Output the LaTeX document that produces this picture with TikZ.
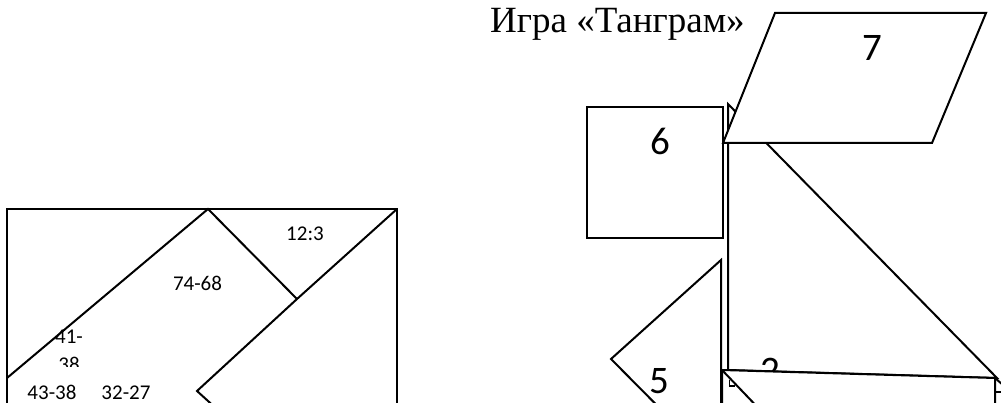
\documentclass[tikz,border=0pt]{standalone}
\usepackage{fontspec}
\newfontfamily\calibri{Carlito}
\newfontfamily\tnr{Liberation Serif}
\begin{document}
\begin{tikzpicture}[x=1pt,y=-1pt,
  piece/.style={draw=black,line width=2pt,line join=miter,fill=white},
  edge/.style={draw=black,line width=2pt},
  small/.style={font=\calibri\fontsize{21}{24}\selectfont,inner sep=0pt},
  big/.style={font=\calibri\fontsize{39}{44}\selectfont,inner sep=0pt},
  title/.style={font=\tnr\fontsize{37}{42}\selectfont,inner sep=0pt}]
\useasboundingbox (0,0) rectangle (1001,403);
\clip (0,0) rectangle (1001,403);
% ---------- left figure ----------
\coordinate (A) at (7,209);
\coordinate (B) at (208,209);
\coordinate (C) at (397,209);
\coordinate (D) at (297,299);
\coordinate (E) at (197,391);
\coordinate (F) at (229,420);
\coordinate (G) at (7,378);
\draw[edge] (7,430) -- (A) -- (C) -- (397,430);
\draw[edge] (G) -- (B) -- (D);
\draw[edge] (C) -- (D) -- (E) -- (F);
\node[small] (t1) at (305,234) {12:3};
\node[small] (t2) at (197.5,283.5) {74-68};
\node[small] (t3) at (69,337) {41-};
\begin{scope}
  \clip (40,350) rectangle (100,366.5);
  \node[small] (t4) at (69,364.5) {38};
\end{scope}
\node[small] (t5) at (52,392.5) {43-38};
\node[small] (t6) at (126,392.5) {32-27};
% ---------- right figure ----------
\node[title,anchor=base west] (title) at (490,33) {Игра «Танграм»};
% big triangle (2)
\coordinate (P1) at (728,104);
\coordinate (P2) at (728,370);
\coordinate (P3) at (997,378);
\draw[piece] (P1) -- (P2) -- (P3) -- cycle;
\node[big] (n2) at (770,370.5) {2};
% lower piece
\coordinate (Q1) at (722,370);
\coordinate (Q2) at (995,378);
\draw[piece] (722,430) -- (Q1) -- (Q2) -- (995,430);
\draw[edge] (Q2) -- (1003,385);
\draw[edge] (995,392) -- (1003,392);
\draw[edge] (Q1) -- (765,415);
\draw[line width=1.4pt] (729.5,380) -- (729.5,386) -- (735,386);
% triangle 5
\coordinate (R1) at (721,260);
\coordinate (R2) at (611,359);
\coordinate (R3) at (721,470);
\draw[piece,fill=none] (R1) -- (R2) -- (R3) -- cycle;
\node[big] (n5) at (659,381) {5};
% square 6
\draw[piece] (587,107) rectangle (723,238);
\node[big] (n6) at (660,141) {6};
% parallelogram 7
\draw[piece] (775,13) -- (986,13) -- (932,143) -- (723,143) -- cycle;
\node[big] (n7) at (872.5,47.5) {7};
\end{tikzpicture}
\end{document}
